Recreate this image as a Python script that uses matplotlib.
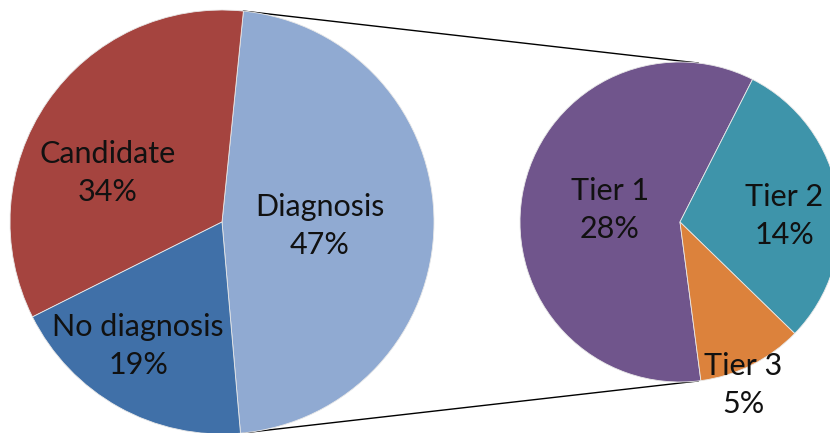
import matplotlib
matplotlib.use("Agg")
import numpy as np
import matplotlib.pyplot as plt

# main pie
main_labels = ["Diagnosis", "Candidate", "No diagnosis"]
main_values = [47, 34, 19]
main_colors = ["#90AAD2", "#A5443F", "#4070A8"]

# breakdown of "Diagnosis"
sub_labels = ["Tier 1", "Tier 2", "Tier 3"]
sub_values = [28, 14, 5]
sub_colors = ["#70558C", "#3E94AA", "#DC823C"]

plt.rcParams['font.family'] = ['Lato', 'DejaVu Sans']

W, H = 830, 433
fig = plt.figure(figsize=(W / 100, H / 100), dpi=100)
ax = fig.add_axes([0, 0, 1, 1])

c1, r1 = (222, H - 222), 212
c2, r2 = (680, H - 222), 160

wedges1, _ = ax.pie(main_values, colors=main_colors, startangle=-85,
                    center=c1, radius=r1,
                    wedgeprops=dict(edgecolor="#e8e8e8", linewidth=0.6))
wedges2, _ = ax.pie(sub_values, colors=sub_colors, startangle=277.5,
                    counterclock=False, center=c2, radius=r2,
                    wedgeprops=dict(edgecolor="#e8e8e8", linewidth=0.6))

# connector lines from the Diagnosis slice to the second pie
d = wedges1[0]
conn = 83.5
for a1, a2 in [(d.theta2, conn), (d.theta1, -conn)]:
    p1 = (c1[0] + r1 * np.cos(np.radians(a1)), c1[1] + r1 * np.sin(np.radians(a1)))
    p2 = (c2[0] + r2 * np.cos(np.radians(a2)), c2[1] + r2 * np.sin(np.radians(a2)))
    ax.plot([p1[0], p2[0]], [p1[1], p2[1]], color="black", lw=1, zorder=0)

# label positions (pixels from top-left)
main_pos = [(320, 226), (108, 173), (138, 346)]
sub_pos = [(610, 210), (784, 216), (743, 385)]
for lab, val, (x, y) in zip(main_labels, main_values, main_pos):
    ax.text(x, H - y, f"{lab}\n{val}%", ha="center", va="center",
            fontsize=22, color="#111111", linespacing=1.45)
for lab, val, (x, y) in zip(sub_labels, sub_values, sub_pos):
    ax.text(x, H - y, f"{lab}\n{val}%", ha="center", va="center",
            fontsize=22, color="#111111", linespacing=1.45)

ax.set_xlim(0, W)
ax.set_ylim(0, H)
ax.set_aspect("equal")
ax.axis("off")

fig.savefig("out.png", dpi=100)
